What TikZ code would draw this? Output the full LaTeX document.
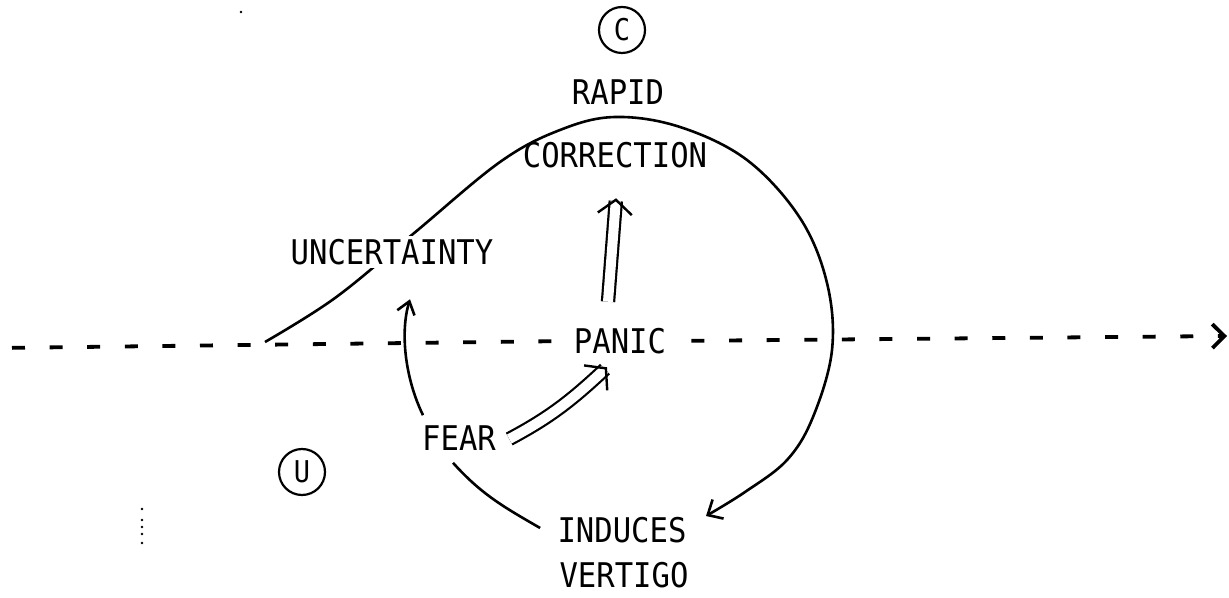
\documentclass[tikz,border=0pt]{standalone}
\usepackage{fontspec}
\newfontfamily\labelfont{DejaVu Sans Mono}[FakeStretch=0.9]
\usetikzlibrary{arrows.meta}
\pgfdeclarelayer{lines}
\pgfsetlayers{lines,main}
\tikzset{
  lbl/.style={font=\labelfont\fontsize{17}{20}\selectfont, inner sep=1.5pt},
  tagcircle/.style={circle, draw, line width=1.1pt, minimum size=23pt, inner sep=0pt,
    font=\labelfont\fontsize{15}{18}\selectfont},
  link/.style={line width=1.3pt},
  barb/.style={-{Straight Barb[length=6pt,width=11pt]}},
  dbl/.style={double, double distance=5pt, line width=1.1pt,
    -{Straight Barb[length=7pt,width=17pt,line width=1.2pt]}},
  axisline/.style={line width=1.9pt, dash pattern=on 6.5pt off 12.3pt},
}
\begin{document}
\begin{tikzpicture}[x=0.5pt,y=-0.5pt]
\useasboundingbox (0,0) rectangle (1229,598);

% labels
\node[tagcircle] (c) at (622,30) {C};
\node[lbl] (rapid) at (618,92) {RAPID};
\node[lbl] (correction) at (615,155) {CORRECTION};
\node[lbl, fill=white] (uncertainty) at (392,252) {UNCERTAINTY};
\node[lbl] (panic) at (620,341) {PANIC};
\node[lbl] (fear) at (459,438) {FEAR};
\node[tagcircle] (u) at (302,472) {U};
\node[lbl] (induces) at (622,530) {INDUCES};
\node[lbl] (vertigo) at (624,575) {VERTIGO};

\coordinate (west end) at (0,348);
\coordinate (east end) at (1227,336);

\begin{pgfonlayer}{lines}
  % horizontal dashed axis, broken by PANIC
  \draw[axisline, dash phase=12.8pt] (west end) -- (panic.west);
  \draw[axisline, dash phase=7.8pt, -{Straight Barb[length=6pt,width=12pt]}]
    (panic.east) -- (east end);
  % loop: uncertainty -> rapid correction -> induces vertigo
  \draw[link, barb] plot[smooth, tension=0.6] coordinates {
    (265,342) (335,298) (413,234) (500,162) (560,130) (615,117)
    (680,127) (747,160) (800,218) (827,283) (832,350) (813,417)
    (787,460) (745,492) (706,516)};
  % fear -> uncertainty
  \draw[link, -{Straight Barb[length=6pt,width=9pt]}]
    ([shift={(-36,-7)}]fear.north) .. controls +(-18,-37) and +(-10,33) ..
    ([shift={(18,31)}]uncertainty.south);
  % fear -> panic
  \draw[dbl] ([shift={(10,1)}]fear.east) to[out=28, in=-137]
    ([shift={(-13,10)}]panic.south);
  % panic -> rapid correction
  \draw[dbl] ([shift={(-12,-23)}]panic.north) -- ([shift={(1,27)}]correction.south);
  % fear -> induces vertigo
  \draw[link] ([shift={(-6,9)}]fear.south) to[out=-48, in=150]
    ([shift={(-14,-2)}]induces.west);
\end{pgfonlayer}

% stray marks
\foreach \yy in {509,520,527,534,543}
  \fill (142,\yy) circle[radius=0.7pt];
\fill (241,12) circle[radius=0.7pt];
\end{tikzpicture}
\end{document}
